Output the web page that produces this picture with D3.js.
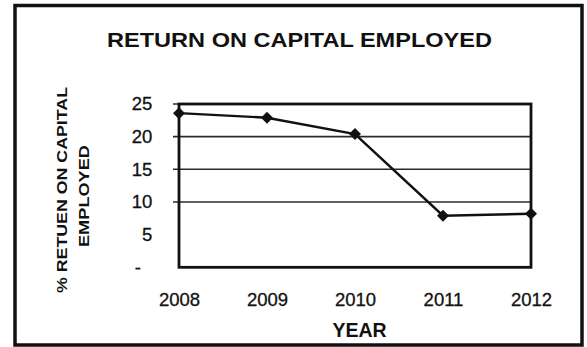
<!DOCTYPE html>
<html>
<head>
<meta charset="utf-8">
<script src="https://cdn.jsdelivr.net/npm/d3@7/dist/d3.min.js"></script>
<style>
  html, body { margin: 0; padding: 0; background: #fff; }
  svg { display: block; }
  text { font-family: "Liberation Sans", Arial, sans-serif; fill: #111; }
</style>
</head>
<body>
<svg id="chart" width="587" height="347"></svg>
<script>
// Return on capital employed, by year
const years = ["2008", "2009", "2010", "2011", "2012"];
const roce = [23.6, 22.9, 20.4, 7.9, 8.2];
const yTicks = [0, 5, 10, 15, 20, 25];
const gridValues = [10, 15, 20, 25];

const chartTitle = "RETURN ON CAPITAL EMPLOYED";
const xTitle = "YEAR";
const yTitleLines = ["% RETUEN ON CAPITAL", "EMPLOYED"];

const svg = d3.select("#chart");

// plot area
const plot = { left: 179, right: 531, top: 104, bottom: 267.3 };

const x = d3.scalePoint().domain(years).range([plot.left, plot.right]).padding(0);
const y = d3.scaleLinear().domain([0, 25]).range([plot.bottom, plot.top]);

// outer frame
svg.append("rect")
  .attr("x", 15).attr("y", 5.5)
  .attr("width", 567).attr("height", 339.5)
  .attr("fill", "none").attr("stroke", "#111").attr("stroke-width", 3.5);

// title
svg.append("text")
  .attr("x", 299.5).attr("y", 46.7)
  .attr("text-anchor", "middle")
  .attr("font-weight", "bold").attr("font-size", 19.5)
  .attr("textLength", 385).attr("lengthAdjust", "spacingAndGlyphs")
  .text(chartTitle);

// horizontal gridlines (extend left as tick marks)
svg.append("g").selectAll("line")
  .data(gridValues)
  .join("line")
  .attr("x1", plot.left - 6).attr("x2", plot.right)
  .attr("y1", d => y(d)).attr("y2", d => y(d))
  .attr("stroke", "#2a2a2a").attr("stroke-width", 1.6);

// plot frame
svg.append("rect")
  .attr("x", plot.left).attr("y", plot.top)
  .attr("width", plot.right - plot.left).attr("height", plot.bottom - plot.top)
  .attr("fill", "none").attr("stroke", "#111").attr("stroke-width", 2.8);

// y axis labels
const yAxis = svg.append("g")
  .attr("transform", `translate(${plot.left},0)`)
  .call(d3.axisLeft(y).tickValues(yTicks).tickSize(0).tickPadding(26.7)
    .tickFormat(d => d === 0 ? "-" : d));
yAxis.select(".domain").remove();
yAxis.selectAll("text")
  .attr("font-size", 18.5)
  .attr("font-family", "Liberation Sans, Arial, sans-serif")
  .attr("fill", "#111")
  .attr("stroke", "#111").attr("stroke-width", 0.3);
yAxis.selectAll(".tick").filter(d => d === 0).select("text")
  .attr("x", -38);

// x axis labels
const xAxis = svg.append("g")
  .attr("transform", `translate(0,${plot.bottom})`)
  .call(d3.axisBottom(x).tickSize(0).tickPadding(26));
xAxis.select(".domain").remove();
xAxis.selectAll("text")
  .attr("font-size", 18.5)
  .attr("font-family", "Liberation Sans, Arial, sans-serif")
  .attr("fill", "#111")
  .attr("stroke", "#111").attr("stroke-width", 0.3);

// axis titles
svg.append("text")
  .attr("x", 359.5).attr("y", 336.7)
  .attr("text-anchor", "middle")
  .attr("font-weight", "bold").attr("font-size", 19.5)
  .text(xTitle);

const yTitlePos = [
  { bx: 67.3, cy: 190, len: 206 },
  { bx: 89, cy: 196, len: 102 }
];
svg.append("g").selectAll("text")
  .data(yTitleLines)
  .join("text")
  .attr("transform", (d, i) => `translate(${yTitlePos[i].bx},${yTitlePos[i].cy}) rotate(-90)`)
  .attr("text-anchor", "middle")
  .attr("font-weight", "bold").attr("font-size", 15)
  .attr("textLength", (d, i) => yTitlePos[i].len)
  .attr("lengthAdjust", "spacingAndGlyphs")
  .text(d => d);

// series line
const line = d3.line()
  .x((d, i) => x(years[i]))
  .y(d => y(d));

svg.append("path")
  .datum(roce)
  .attr("d", line)
  .attr("fill", "none")
  .attr("stroke", "#111")
  .attr("stroke-width", 2.4);

// diamond markers
const diamond = d3.symbol().type(d3.symbolSquare).size(72);
svg.append("g").selectAll("path")
  .data(roce)
  .join("path")
  .attr("d", diamond)
  .attr("transform", (d, i) => `translate(${x(years[i])},${y(d)}) rotate(45)`)
  .attr("fill", "#111");
</script>
</body>
</html>
